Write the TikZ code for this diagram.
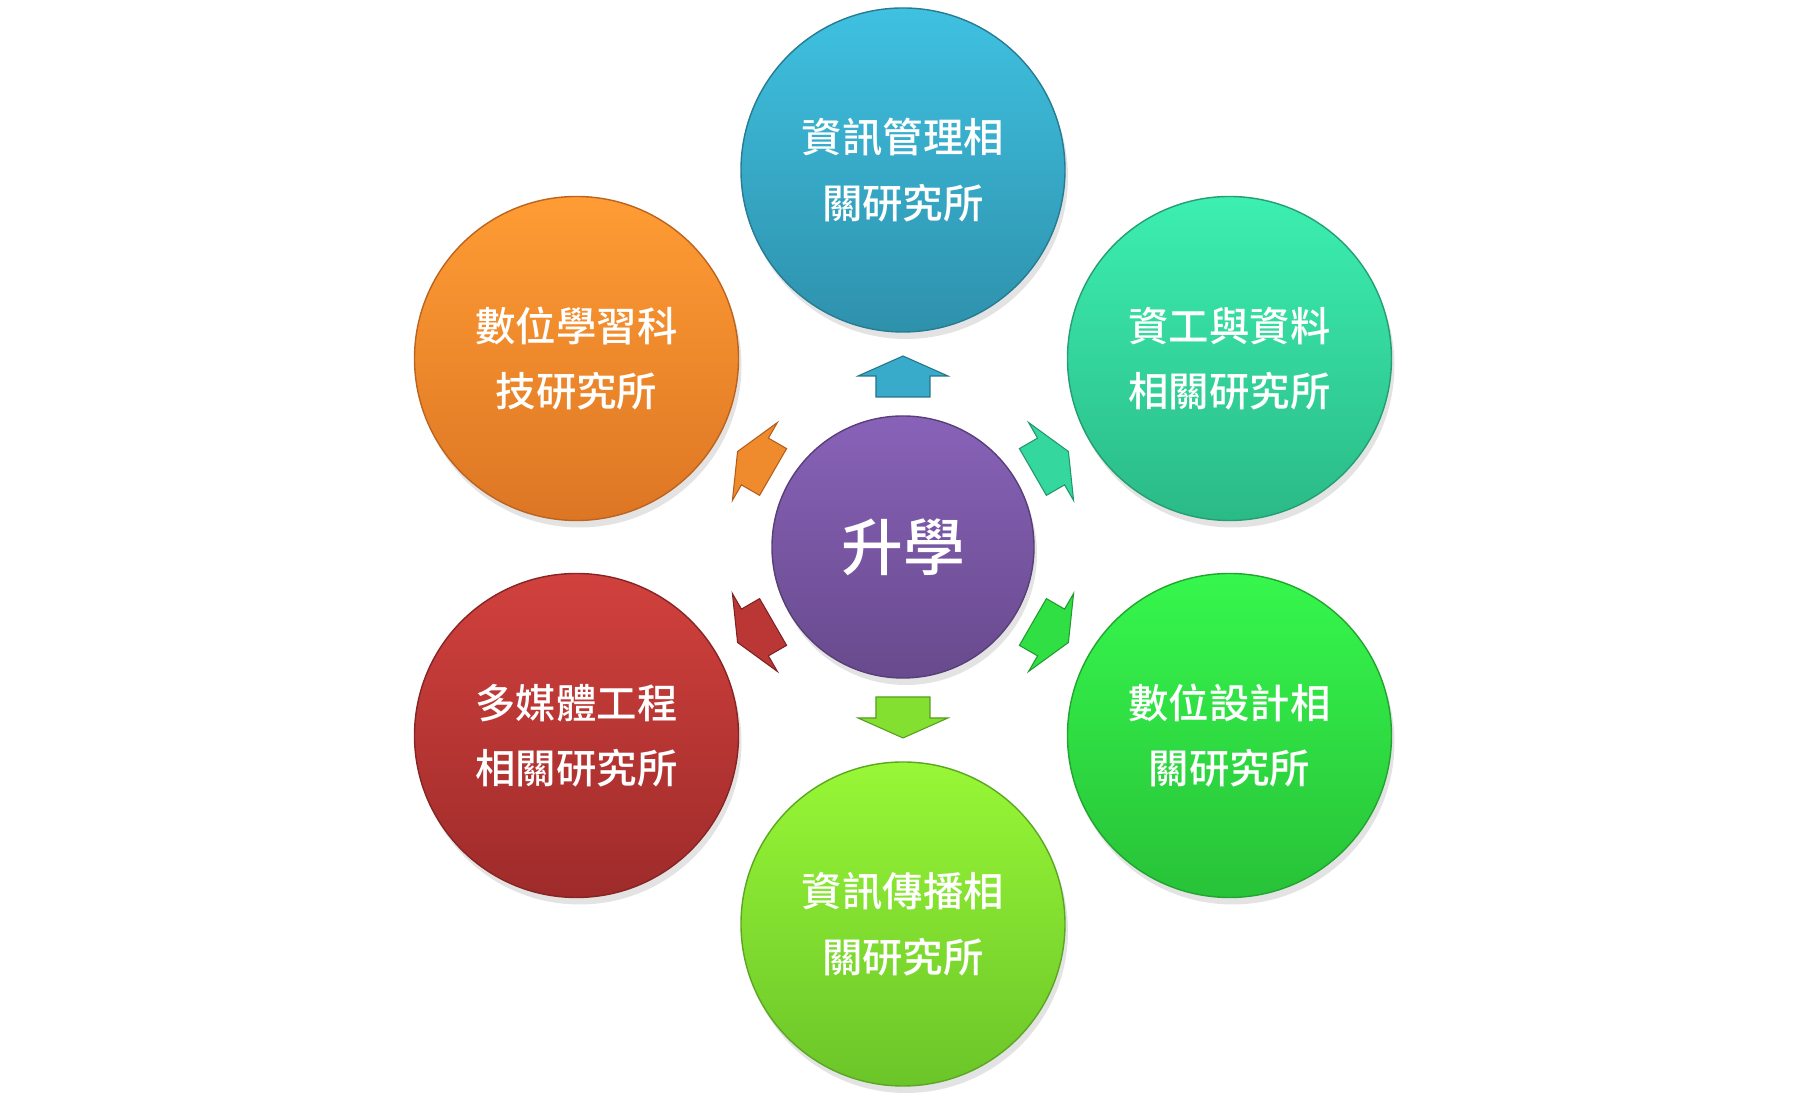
\documentclass[tikz,border=0pt]{standalone}
\usepackage{fontspec}
\newfontfamily\cjkmed{Noto Sans CJK TC Medium}
\usetikzlibrary{positioning,shadows}
\definecolor{chub-top}{HTML}{8862B8}
\definecolor{chub-bot}{HTML}{684A8D}
\definecolor{cmis-top}{HTML}{3FC1E1}
\definecolor{cmis-bot}{HTML}{2E91AC}
\definecolor{ccs-top}{HTML}{3CEFB1}
\definecolor{ccs-bot}{HTML}{2BBA87}
\definecolor{cdes-top}{HTML}{36F74D}
\definecolor{cdes-bot}{HTML}{28C238}
\definecolor{ccom-top}{HTML}{98F736}
\definecolor{ccom-bot}{HTML}{6BC529}
\definecolor{cmm-top}{HTML}{D1413D}
\definecolor{cmm-bot}{HTML}{9E2B2A}
\definecolor{clrn-top}{HTML}{FF9C34}
\definecolor{clrn-bot}{HTML}{DD7624}

\begin{document}
\begin{tikzpicture}[
    ball/.style={circle, inner sep=0pt, text=white, align=center,
      drop shadow={opacity=0.22, shadow xshift=0.03, shadow yshift=-0.07}},
    unit/.style={ball, minimum size=3.24cm,
      font=\cjkmed\fontsize{11.5}{18.6}\selectfont},
    hub/.style={ball, minimum size=2.62cm,
      font=\cjkmed\fontsize{17.6}{20}\selectfont}
  ]
    \useasboundingbox (-9.03,-5.54) rectangle (9.04,5.47);
    % centre
    \node[hub, top color=chub-top, bottom color=chub-bot, draw=chub-bot!85!black, line width=0.4pt]
      (hub) at (0,0) {升學};
    % six programmes round the centre, each with its arrow
    \foreach \a/\n/\c/\t in {90/mis/cmis/{資訊管理相\\關研究所},
                             30/cs/ccs/{資工與資料\\相關研究所},
                             -30/des/cdes/{數位設計相\\關研究所},
                             -90/com/ccom/{資訊傳播相\\關研究所},
                             -150/mm/cmm/{多媒體工程\\相關研究所},
                             150/lrn/clrn/{數位學習科\\技研究所}}{
      \node[unit, top color=\c-top, bottom color=\c-bot, draw=\c-bot!85!black, line width=0.4pt]
        (\n) at ([shift={(\a:3.77)}]hub.center) {\t};
      \begin{scope}[shift={(hub.center)}, rotate=\a]
        \fill[\c-top!55!\c-bot, draw=\c-bot!80!black, line width=0.3pt]
          (1.50,-0.27) -- (1.71,-0.27) -- (1.71,-0.45) -- (1.91,0)
          -- (1.71,0.45) -- (1.71,0.27) -- (1.50,0.27) -- cycle;
      \end{scope}
    }
  \end{tikzpicture}
\end{document}
